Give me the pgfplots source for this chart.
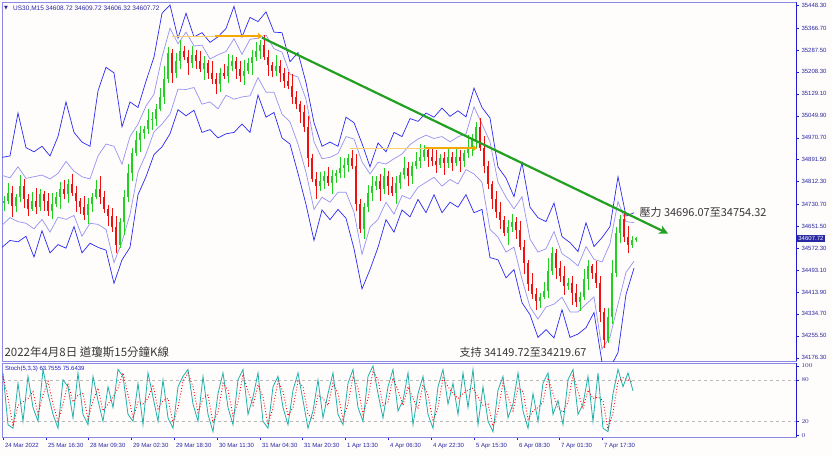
\documentclass[border=0pt]{standalone}
\usepackage{fontspec}
\setmainfont{Liberation Sans}
\newfontfamily\cjk{Noto Sans CJK TC}
\newfontfamily\dejavu{DejaVu Sans}
\usepackage{pgfplots}
\usepackage{pgfplotstable}
\pgfplotsset{compat=1.18}
\usetikzlibrary{arrows.meta}

\definecolor{bgc}{HTML}{FFFCFC}
\definecolor{axisblue}{HTML}{1E1EC8}
\definecolor{tickblue}{HTML}{2828A0}
\definecolor{frameblue}{HTML}{8A8AE6}
\definecolor{bandout}{HTML}{2A2AF0}
\definecolor{bandin}{HTML}{9494F2}
\definecolor{candleup}{HTML}{22D022}
\definecolor{candledn}{HTML}{F01010}
\definecolor{trend}{HTML}{22A022}
\definecolor{lvl}{HTML}{F5A800}
\definecolor{stk}{HTML}{20B2AA}
\definecolor{txtgray}{HTML}{383838}

% candles: x, open, close, wick above, wick below
\pgfplotstableread{
x o c u l
4 34735 34744 18 30
8 34744 34773 35 12
12 34773 34726 25 40
16 34726 34758 10 22
20 34758 34798 40 18
24 34798 34751 22 35
28 34751 34715 15 28
32 34715 34744 30 10
36 34744 34722 45 25
40 34722 34766 20 15
44 34766 34744 12 38
48 34744 34708 28 20
52 34708 34733 38 30
56 34733 34758 16 12
60 34758 34787 24 44
64 34787 34766 32 18
68 34766 34805 18 30
72 34805 34773 35 12
76 34773 34744 25 40
80 34744 34719 10 22
84 34719 34693 40 18
88 34693 34730 22 35
92 34730 34758 15 28
96 34758 34787 30 10
100 34787 34758 45 25
104 34758 34715 20 15
108 34715 34690 12 38
112 34690 34650 28 20
116 34650 34585 38 30
120 34585 34665 16 12
124 34665 34758 24 44
128 34758 34845 32 18
132 34845 34917 18 30
136 34917 34961 35 12
140 34961 34989 25 40
144 34989 35004 10 22
148 35004 35033 40 18
152 35033 35040 22 35
156 35040 35076 15 28
160 35076 35119 30 10
164 35119 35184 45 25
168 35184 35278 20 15
172 35278 35206 12 38
176 35206 35249 28 20
180 35249 35285 38 30
184 35285 35264 16 12
188 35264 35242 24 44
192 35242 35271 32 18
196 35271 35249 18 30
200 35249 35220 35 12
204 35220 35242 25 40
208 35242 35206 10 22
212 35206 35184 40 18
216 35184 35163 22 35
220 35163 35206 15 28
224 35206 35192 30 10
228 35192 35228 45 25
232 35228 35249 20 15
236 35249 35220 12 38
240 35220 35192 28 20
244 35192 35213 38 30
248 35213 35242 16 12
252 35242 35264 24 44
256 35264 35285 32 18
260 35285 35307 18 30
264 35307 35264 35 12
268 35264 35235 25 40
272 35235 35213 10 22
276 35213 35228 40 18
280 35228 35206 22 35
284 35206 35177 15 28
288 35177 35156 30 10
292 35156 35119 45 25
296 35119 35091 20 15
300 35091 35062 12 38
304 35062 35011 28 20
308 35011 34896 38 30
312 34896 34823 16 12
316 34823 34795 24 44
320 34795 34816 32 18
324 34816 34831 18 30
328 34831 34809 35 12
332 34809 34831 25 40
336 34831 34845 10 22
340 34845 34860 40 18
344 34860 34874 22 35
348 34874 34896 15 28
352 34896 34867 30 10
356 34867 34730 45 25
360 34730 34643 20 15
364 34643 34722 12 38
368 34722 34773 28 20
372 34773 34795 38 30
376 34795 34816 16 12
380 34816 34787 24 44
384 34787 34831 32 18
388 34831 34795 18 30
392 34795 34773 35 12
396 34773 34809 25 40
400 34809 34838 10 22
404 34838 34860 40 18
408 34860 34831 22 35
412 34831 34867 15 28
416 34867 34888 30 10
420 34888 34903 45 25
424 34903 34925 20 15
428 34925 34903 12 38
432 34903 34888 28 20
436 34888 34874 38 30
440 34874 34896 16 12
444 34896 34881 24 44
448 34881 34903 32 18
452 34903 34881 18 30
456 34881 34903 35 12
460 34903 34888 25 40
464 34888 34917 10 22
468 34917 34939 40 18
472 34939 34961 22 35
476 34961 35011 15 28
480 35011 34932 30 10
484 34932 34867 45 25
488 34867 34802 20 15
492 34802 34751 12 38
496 34751 34701 28 20
500 34701 34672 38 30
504 34672 34628 16 12
508 34628 34650 24 44
512 34650 34665 32 18
516 34665 34636 18 30
520 34636 34578 35 12
524 34578 34520 25 40
528 34520 34441 10 22
532 34441 34405 40 18
536 34405 34383 22 35
540 34383 34397 15 28
544 34397 34419 30 10
548 34419 34491 45 25
552 34491 34556 20 15
556 34556 34499 12 38
560 34499 34470 28 20
564 34470 34434 38 30
568 34434 34448 16 12
572 34448 34412 24 44
576 34412 34376 32 18
580 34376 34397 18 30
584 34397 34462 35 12
588 34462 34506 25 40
592 34506 34484 10 22
596 34484 34448 40 18
600 34448 34340 22 35
604 34340 34239 15 28
608 34239 34325 30 10
612 34325 34484 45 25
616 34484 34628 20 15
620 34628 34679 12 38
624 34679 34614 28 20
628 34614 34585 38 30
632 34585 34600 16 12
636 34600 34608 6 4
}\candles

% bands: upper outer, upper inner, lower inner, lower outer
\pgfplotstableread{
x uo ui li lo
2 34900 34835 34655 34575
10 34905 34826 34682 34600
18 35060 34866 34668 34595
26 34935 34824 34662 34615
34 34920 34830 34642 34540
42 34940 34836 34676 34635
50 34905 34822 34630 34555
58 34975 34842 34684 34585
66 35100 34885 34676 34572
74 34990 34850 34690 34650
82 34955 34830 34615 34555
90 34940 34822 34662 34590
98 35140 34905 34658 34575
106 35225 34948 34640 34565
114 35205 34940 34520 34445
122 35010 34875 34595 34530
130 35100 34975 34694 34575
138 35080 35020 34846 34765
146 35175 35085 34912 34830
154 35262 35128 34992 34910
162 35420 35262 35020 34938
170 35450 35366 35056 34985
178 35330 35310 35146 35072
186 35420 35352 35145 35050
194 35335 35302 35152 35070
202 35350 35305 35092 34990
210 35315 35255 35100 35000
218 35335 35270 35075 34970
226 35365 35282 35124 34985
234 35445 35328 35110 34990
242 35335 35272 35118 35020
250 35405 35326 35122 34990
258 35390 35330 35188 35125
266 35425 35342 35135 35045
274 35352 35292 35135 35062
282 35350 35280 35056 34970
290 35245 35200 35028 34948
298 35278 35190 34948 34842
306 35170 35110 34846 34730
314 35025 34956 34712 34600
322 34940 34895 34756 34710
330 34955 34900 34738 34675
338 34940 34914 34774 34712
346 35045 34975 34774 34680
354 35025 34966 34702 34570
362 34950 34884 34550 34425
370 34866 34840 34648 34495
378 34952 34882 34676 34575
386 34920 34876 34738 34675
394 34990 34895 34695 34630
402 34975 34912 34762 34710
410 35040 34946 34750 34685
418 35030 34966 34792 34748
426 35060 34980 34810 34700
434 35045 34968 34828 34765
442 35078 34975 34796 34700
450 35048 34956 34820 34738
458 35068 34974 34804 34720
466 35046 34985 34856 34765
474 35150 35082 34840 34700
482 35080 35020 34810 34712
490 35042 34956 34640 34538
498 34865 34810 34612 34530
506 34825 34756 34558 34465
514 34758 34714 34576 34495
522 34880 34758 34460 34375
530 34720 34605 34360 34332
538 34682 34558 34316 34250
546 34668 34570 34360 34278
554 34735 34632 34370 34248
562 34614 34552 34395 34350
570 34592 34533 34342 34250
578 34560 34508 34342 34262
586 34664 34578 34370 34285
594 34578 34532 34396 34340
602 34610 34522 34208 34160
610 34650 34588 34252 34140
618 34830 34740 34370 34195
626 34688 34668 34485 34405
634 34700 34664 34525 34500
}\bands

% stochastic (5,3,3): main and signal
\pgfplotstableread{
x k d
3 90 85
8 15 53
13 10 13
18 75 43
23 20 48
28 85 53
33 40 63
38 20 30
43 95 58
48 60 78
53 30 45
58 10 20
63 80 45
68 70 75
73 25 48
78 90 58
83 30 60
88 15 23
93 85 50
98 50 68
103 20 35
108 70 45
113 40 55
118 95 68
123 85 90
128 30 58
133 20 25
138 75 48
143 15 45
148 90 53
153 55 73
158 20 38
163 80 50
168 25 53
173 10 18
178 70 40
183 85 78
188 95 90
193 45 70
198 20 33
203 85 53
208 30 58
213 5 18
218 60 33
223 90 75
228 40 65
233 15 28
238 80 48
243 95 88
248 30 63
253 55 43
258 90 73
263 20 55
268 10 15
273 70 40
278 85 78
283 40 63
288 15 28
293 65 40
298 90 78
303 50 70
308 10 30
313 35 23
318 80 58
323 25 53
328 60 43
333 90 75
338 30 60
343 15 23
348 75 45
353 95 85
358 40 68
363 20 30
368 85 53
373 100 93
378 60 80
383 25 43
388 70 48
393 95 83
398 35 65
403 50 43
408 90 70
413 15 53
418 60 38
423 85 73
428 30 58
433 10 20
438 70 40
443 95 83
448 45 70
453 75 60
458 30 53
463 90 60
468 40 65
473 95 68
478 15 55
483 70 43
488 20 45
493 5 13
498 65 35
503 85 75
508 25 55
513 45 35
518 90 68
523 35 63
528 10 23
533 60 35
538 20 40
543 75 48
548 90 83
553 30 60
558 50 40
563 15 33
568 80 48
573 95 88
578 30 63
583 45 38
588 85 65
593 20 53
598 90 55
603 10 50
608 5 8
613 60 33
618 95 78
623 70 83
628 90 80
633 64 76
}\stoch

\begin{document}
\begin{tikzpicture}
\fill[bgc] (0,0) rectangle (832pt,456pt);

% price panel
\begin{axis}[
  at={(2pt,95pt)}, anchor=south west,
  width=794pt, height=359pt, scale only axis,
  xmin=2, xmax=796, ymin=34164, ymax=35460,
  xtick=\empty,
  ytick={34176.3,34255.5,34334.7,34413.9,34493.1,34572.3,34651.5,34730.7,34812.3,34891.5,34970.7,35049.9,35129.1,35208.3,35287.5,35366.7,35448.3},
  ytick pos=right, yticklabel pos=right, scaled y ticks=false,
  yticklabel={\pgfmathprintnumber[fixed,fixed zerofill,precision=2,1000 sep={},assume math mode=true]{\tick}},
  yticklabel style={font=\fontsize{6}{7}\selectfont, text=tickblue, anchor=west, xshift=-1pt},
  tick align=outside, major tick length=3pt,
  tick style={draw=axisblue, line width=0.5pt},
  axis line style={draw=frameblue, line width=0.6pt},
  clip mode=individual,
  colormap={cdl}{color=(candledn) color=(candleup)},
]
\addplot[bandin, line width=0.7pt] table[x=x, y=ui] \bands;
\addplot[bandin, line width=0.7pt] table[x=x, y=li] \bands;
\addplot[bandout, line width=0.7pt] table[x=x, y=uo] \bands;
\addplot[bandout, line width=0.7pt] table[x=x, y=lo] \bands;

% wicks
\addplot[quiver={u=0, v=abs(\thisrow{c}-\thisrow{o})+\thisrow{u}+\thisrow{l}, colored,
    every arrow/.append style={line width=0.9pt}},
  point meta={\thisrow{c}>\thisrow{o}}, point meta min=0, point meta max=1]
  table[x=x, y expr={min(\thisrow{o},\thisrow{c})-\thisrow{l}}] \candles;
% bodies
\addplot[quiver={u=0, v=\thisrow{c}-\thisrow{o}, colored,
    every arrow/.append style={line width=2.6pt}},
  point meta={\thisrow{c}>\thisrow{o}}, point meta min=0, point meta max=1]
  table[x=x, y=o] \candles;

% levels and trend line
\addplot[lvl!55, line width=1pt] coordinates {(172,35338) (262,35338)};
\addplot[lvl, line width=2.4pt, -{Triangle[length=4pt,width=6pt]}] coordinates {(215,35338) (262,35338)};
\addplot[lvl!55, line width=1pt] coordinates {(350,34933) (477,34933)};
\addplot[lvl, line width=2.4pt, -{Triangle[length=4pt,width=6pt]}] coordinates {(425,34933) (477,34933)};
\addplot[trend, line width=2.2pt, -{Stealth[length=9pt,width=9pt]}] coordinates {(262,35332) (668,34625)};

\draw[axisblue, line width=0.8pt] (rel axis cs:1,0) -- (rel axis cs:1,1);

\node[anchor=west, font=\dejavu\fontsize{5}{6}\selectfont, text=tickblue, inner sep=0pt] at (axis cs:4,35437) {▼};
\node[anchor=west, font=\fontsize{6.5}{8}\selectfont, text=tickblue, inner sep=0pt] at (axis cs:13,35437) {US30,M15 34608.72 34609.72 34606.32 34607.72};
\node[anchor=west, fill=tickblue, text=white, font=\fontsize{6}{7}\selectfont, inner sep=1.2pt] at (axis cs:797,34607.72) {34607.72};

\node[anchor=west, font=\cjk\fontsize{11}{13}\selectfont, text=txtgray] at (axis cs:636,34701) {壓力 34696.07至34754.32};
\node[anchor=west, font=\cjk\fontsize{11}{13}\selectfont, text=txtgray] at (axis cs:456,34195) {支持 34149.72至34219.67};
\node[anchor=west, font=\cjk\fontsize{11.5}{13}\selectfont, text=txtgray] at (axis cs:1,34195) {2022年4月8日 道瓊斯15分鐘K線};
\end{axis}

% stochastic panel
\begin{axis}[
  at={(2pt,19pt)}, anchor=south west,
  width=794pt, height=74pt, scale only axis,
  xmin=2, xmax=796, ymin=-3, ymax=104,
  xtick={3,46,88,131,174,217,260,302,345,388,431,474,517,559,602},
  xticklabels={24 Mar 2022,25 Mar 16:30,28 Mar 09:30,29 Mar 02:30,29 Mar 18:30,30 Mar 11:30,31 Mar 04:30,31 Mar 20:30,1 Apr 13:30,4 Apr 06:30,4 Apr 22:30,5 Apr 15:30,6 Apr 08:30,7 Apr 01:30,7 Apr 17:30},
  xtick pos=bottom,
  xticklabel style={font=\fontsize{6}{7}\selectfont, text=tickblue, anchor=north west, xshift=-1.5pt},
  ytick={0,20,80,100},
  ytick pos=right, yticklabel pos=right,
  yticklabel style={font=\fontsize{6}{7}\selectfont, text=tickblue, anchor=west, xshift=-1pt},
  tick align=outside, major tick length=3pt,
  tick style={draw=axisblue, line width=0.5pt},
  axis line style={draw=frameblue, line width=0.6pt},
  clip mode=individual,
]
\addplot[gray!55, dashed, line width=0.5pt] coordinates {(2,80) (796,80)};
\addplot[gray!55, dashed, line width=0.5pt] coordinates {(2,20) (796,20)};
\addplot[stk, line width=0.8pt] table[x=x, y=k] \stoch;
\addplot[red, dotted, line width=0.9pt] table[x=x, y=d] \stoch;
\draw[axisblue, line width=0.8pt] (rel axis cs:1,0) -- (rel axis cs:1,1);
\node[anchor=west, font=\fontsize{6}{7}\selectfont, text=axisblue, inner sep=0pt] at (axis cs:5,96) {Stoch(5,3,3) 63.7555 75.6439};
\end{axis}
\end{tikzpicture}
\end{document}
